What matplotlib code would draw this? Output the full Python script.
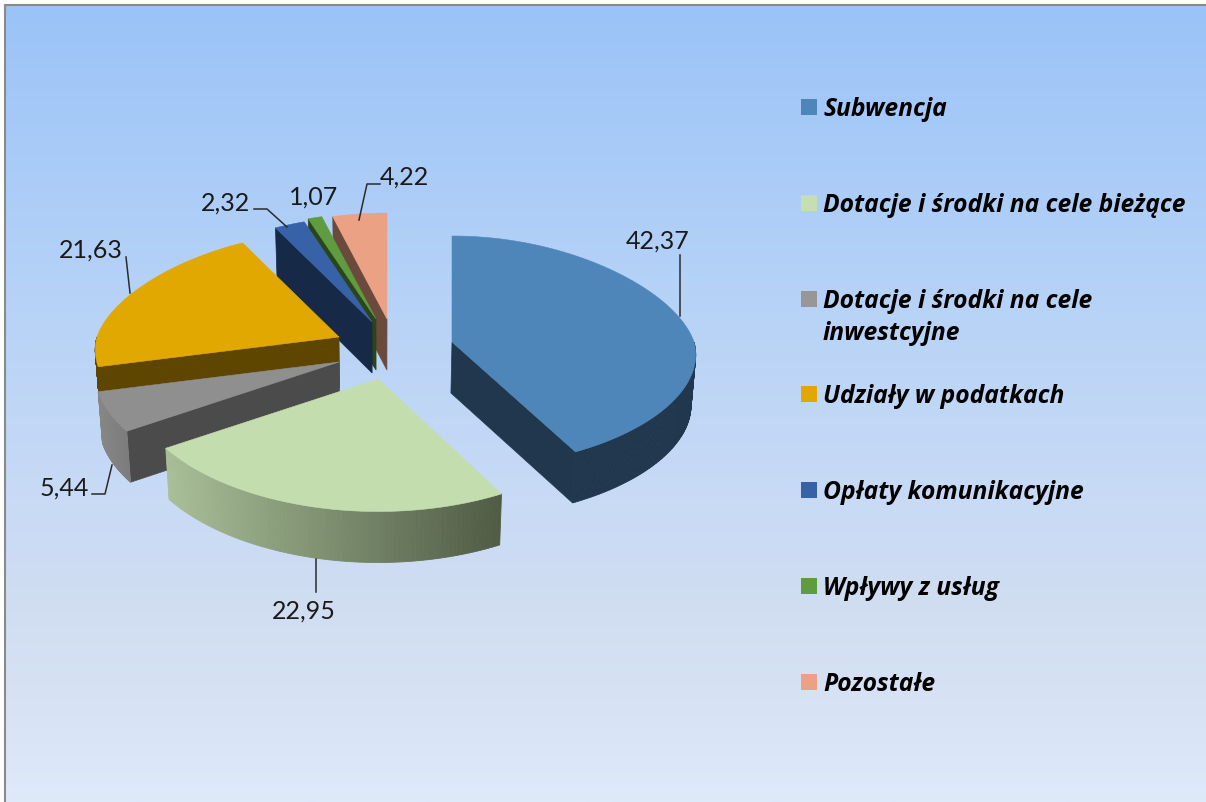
import numpy as np
from matplotlib import pyplot as plt
from matplotlib.colors import to_rgb

plt.rcParams['font.family'] = ['Lato', 'DejaVu Sans']

categories = ['Subwencja', 'Dotacje i środki na cele bieżące', 'Dotacje i środki na cele\ninwestcyjne',
              'Udziały w podatkach', 'Opłaty komunikacyjne', 'Wpływy z usług', 'Pozostałe']
values = [42.37, 22.95, 5.44, 21.63, 2.32, 1.07, 4.22]
value_labels = ['42,37', '22,95', '5,44', '21,63', '2,32', '1,07', '4,22']

top_colors = ['#4F86BA', '#C4DDAF', '#8F8F8F', '#E0A800', '#3862A8', '#5F9B3F', '#EBA184']
legend_colors = ['#4F86BA', '#C6DFB0', '#979797', '#E0A800', '#3862A8', '#5F9B3F', '#EBA184']
face_colors = ['#20374D', '#20374D', '#4B4B4B', '#5E4500', '#162947', '#2B451B', '#6B4A3D']
arc_colors = [('#20374D', '#20374D'), ('#A9BF98', '#4F5B44'), ('#868686', '#7C7C7C'),
              ('#5E4500', '#5E4500'), ('#162947', '#162947'), ('#2B451B', '#2B451B'), ('#6B4A3D', '#6B4A3D')]

# pie layout, pixels
centers = [(452, 342), (378, 379), (339, 362), (339, 337), (372, 322), (376, 319), (387, 319)]
front_scale = [0.19, 0.25, 0.25, 0.25, 0.25, 0.25, 0.25]
RX, RY, DEPTH = 242, 106, 51
draw_order = [6, 5, 4, 3, 2, 1, 0]

# leader lines and label positions, pixels
leaders = [[(680, 255), (680, 316)], [(316, 559), (316, 592)], [(92, 494), (105, 494), (112, 465)],
           [(126, 257), (130, 293)], [(254, 209), (267, 209), (287, 227)], None,
           [(380, 184), (367, 184), (359, 220)]]
label_pos = [(658, 241), (304, 611), (64, 488), (91, 250), (225, 203), (314, 197), (404, 177)]
legend_y = [107, 203, 299, 394, 490, 586, 682]

bg_stops = [0, 0.35, 0.62, 0.78, 1]
bg_colors = ['#9BC3F8', '#B5D2F7', '#C8DAF5', '#D2DEF1', '#DEEAFA']


def project(center, theta, front):
    # angle clockwise from the top, front of the pie larger, back smaller
    u = np.sin(theta)
    v = -np.cos(theta)
    x = center[0] + RX * u * (1 + 0.12 * np.maximum(v, 0) + 0.15 * np.minimum(v, 0))
    y = center[1] + RY * v * (1 + front * np.maximum(v, 0))
    return x, y


def lower(x, y):
    return 380 + (np.asarray(x) - 380) * 0.985, np.asarray(y) + DEPTH


fig = plt.figure(figsize=(12.06, 8.02), dpi=100)
ax = fig.add_axes([0, 0, 1, 1])
ax.set_xlim(0, 1206)
ax.set_ylim(802, 0)
ax.axis('off')

t = np.linspace(0, 1, 400)
rows = np.array([np.interp(t, bg_stops, [to_rgb(c)[i] for c in bg_colors]) for i in range(3)]).T
ax.imshow(rows[:, None, :], extent=(5, 1206, 802, 5), aspect='auto', zorder=0)
ax.plot([5, 5, 1206], [802, 5, 5], color='#8A8A8A', lw=1.5, zorder=1)

edges = np.radians(np.cumsum([0] + values) / sum(values) * 360)
z = 2
for i in draw_order:
    a0, a1 = edges[i], edges[i + 1]
    c = centers[i]
    fr = front_scale[i]

    # flat inner faces facing the viewer
    for a in ([a0] if np.sin(a0) < -1e-6 else []) + ([a1] if np.sin(a1) > 1e-6 else []):
        px, py = project(c, a, fr)
        bx, by = lower([c[0], px], [c[1], py])
        ax.fill([c[0], px, bx[1], bx[0]], [c[1], py, by[1], by[0]], color=face_colors[i], lw=0.5, zorder=z)
        z += 1

    # outer rim, front half only, strips so the shading can run along it
    lo, hi = max(a0, np.pi / 2), min(a1, np.pi * 1.5)
    if hi > lo:
        th = np.linspace(lo, hi, 90)
        xs, ys = project(c, th, fr)
        bx, by = lower(xs, ys)
        c_a, c_b = to_rgb(arc_colors[i][0]), to_rgb(arc_colors[i][1])
        left, right = xs.min(), xs.max()
        for k in range(len(th) - 1):
            f = ((xs[k] + xs[k + 1]) / 2 - left) / (right - left)
            col = tuple(c_a[n] + (c_b[n] - c_a[n]) * f for n in range(3))
            ax.fill([xs[k], xs[k + 1], bx[k + 1], bx[k]], [ys[k], ys[k + 1], by[k + 1], by[k]],
                    color=col, lw=0.6, zorder=z)
        z += 1

    # top of the slice
    th = np.linspace(a0, a1, 120)
    xs, ys = project(c, th, fr)
    ax.fill(np.r_[c[0], xs], np.r_[c[1], ys], color=top_colors[i], lw=0.4, zorder=z)
    z += 1

for line, pos, text in zip(leaders, label_pos, value_labels):
    if line is not None:
        ax.plot(*zip(*line), color='#2B2B2B', lw=1.1, zorder=z)
    ax.text(pos[0], pos[1], text, fontsize=18, color='#1A1A1A', ha='center', va='center', zorder=z)

for name, y, col in zip(categories, legend_y, legend_colors):
    ax.fill([801, 817, 817, 801], [y - 8, y - 8, y + 8, y + 8], color=col, lw=0, zorder=z)
    ax.text(823, y - 10, name, fontsize=17.7, family=['Open Sans', 'DejaVu Sans'], fontweight='bold',
            fontstyle='italic', color='black', ha='left', va='top', linespacing=1.36, zorder=z)

fig.savefig('out.png', dpi=100)
